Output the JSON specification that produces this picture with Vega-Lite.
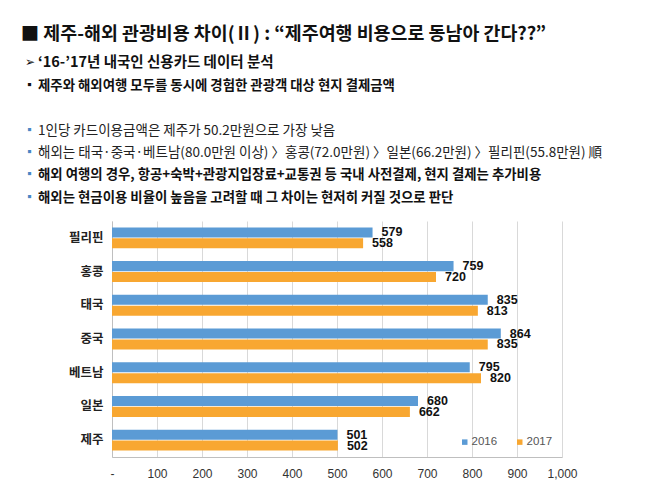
{
  "$schema": "https://vega.github.io/schema/vega-lite/v6.json",
  "background": "white",
  "autosize": {"type": "pad"},
  "padding": {"left": 20, "top": 24, "right": 10, "bottom": 4},
  "config": {
    "view": {"stroke": null},
    "font": "Noto Sans CJK KR"
  },
  "resolve": {"scale": {"color": "independent"}, "legend": {"color": "independent"}},
  "title": {
    "text": "■ 제주-해외 관광비용 차이(Ⅱ) : “제주여행 비용으로 동남아 간다??”",
    "anchor": "start",
    "dx": -3,
    "font": "Noto Sans CJK KR",
    "fontSize": 18.4,
    "fontWeight": "bold",
    "color": "#111111",
    "offset": 9
  },
  "spacing": 12,
  "datasets": {
    "notes": [
      {"row": 0, "kind": "head", "bold": true, "bullet": "➢", "text": "‘16-’17년  내국인 신용카드 데이터 분석"},
      {"row": 1, "kind": "sub", "bold": true, "bullet": "▪", "text": "제주와 해외여행 모두를 동시에 경험한 관광객 대상 현지 결제금액"},
      {"row": 3, "kind": "point", "bold": false, "bullet": "▪", "text": "1인당 카드이용금액은 제주가 50.2만원으로 가장 낮음"},
      {"row": 4, "kind": "point", "bold": false, "bullet": "▪", "text": "해외는 태국·중국·베트남(80.0만원 이상) 〉홍콩(72.0만원) 〉일본(66.2만원) 〉필리핀(55.8만원) 順"},
      {"row": 5, "kind": "point", "bold": true, "bullet": "▪", "text": "해외 여행의 경우, 항공+숙박+관광지입장료+교통권 등 국내 사전결제,  현지 결제는 추가비용"},
      {"row": 6, "kind": "point", "bold": true, "bullet": "▪", "text": "해외는 현금이용 비율이 높음을 고려할 때 그 차이는 현저히 커질 것으로 판단"}
    ],
    "spend": [
      {"country": "필리핀", "year": "2016", "value": 579},
      {"country": "필리핀", "year": "2017", "value": 558},
      {"country": "홍콩", "year": "2016", "value": 759},
      {"country": "홍콩", "year": "2017", "value": 720},
      {"country": "태국", "year": "2016", "value": 835},
      {"country": "태국", "year": "2017", "value": 813},
      {"country": "중국", "year": "2016", "value": 864},
      {"country": "중국", "year": "2017", "value": 835},
      {"country": "베트남", "year": "2016", "value": 795},
      {"country": "베트남", "year": "2017", "value": 820},
      {"country": "일본", "year": "2016", "value": 680},
      {"country": "일본", "year": "2017", "value": 662},
      {"country": "제주", "year": "2016", "value": 501},
      {"country": "제주", "year": "2017", "value": 502}
    ]
  },
  "vconcat": [
    {
      "width": 450,
      "height": 157,
      "data": {"name": "notes"},
      "encoding": {
        "y": {"field": "row", "type": "ordinal", "scale": {"type": "point", "domain": [0, 1, 2, 3, 4, 5, 6], "padding": 0.5}, "axis": null}
      },
      "layer": [
        {
          "mark": {"type": "text", "align": "center", "baseline": "middle", "fontSize": 11.5, "font": "Noto Sans CJK KR"},
          "encoding": {
            "x": {"value": -82.5},
            "text": {"field": "bullet"},
            "color": {"field": "kind", "type": "nominal", "scale": {"domain": ["head", "sub", "point"], "range": ["#111111", "#111111", "#4A86C5"]}, "legend": null}
          }
        },
        {
          "transform": [{"filter": "datum.kind == 'head'"}],
          "mark": {"type": "text", "align": "left", "baseline": "middle", "fontSize": 14.5, "fontWeight": "bold", "color": "#111111", "font": "Noto Sans CJK KR"},
          "encoding": {
            "x": {"value": -74},
            "text": {"field": "text"}
          }
        },
        {
          "transform": [{"filter": "datum.bold && datum.kind != 'head'"}],
          "mark": {"type": "text", "align": "left", "baseline": "middle", "fontSize": 13.4, "fontWeight": "bold", "color": "#111111", "font": "Noto Sans CJK KR"},
          "encoding": {
            "x": {"value": -74},
            "text": {"field": "text"}
          }
        },
        {
          "transform": [{"filter": "!datum.bold"}],
          "mark": {"type": "text", "align": "left", "baseline": "middle", "fontSize": 13.5, "fontWeight": "normal", "color": "#222222", "font": "Noto Sans CJK KR"},
          "encoding": {
            "x": {"value": -74},
            "text": {"field": "text"}
          }
        }
      ]
    },
    {
      "width": 450,
      "height": 236,
      "data": {"name": "spend"},
      "encoding": {
        "y": {
          "field": "country",
          "type": "nominal",
          "sort": ["필리핀", "홍콩", "태국", "중국", "베트남", "일본", "제주"],
          "scale": {"paddingInner": 0.38, "paddingOuter": 0.19},
          "axis": {"title": null, "ticks": false, "domainColor": "#bfbfbf", "labelFontSize": 12.5, "labelFontWeight": "bold", "labelColor": "#222222", "labelPadding": 9, "labelFont": "Noto Sans CJK KR"}
        },
        "yOffset": {"field": "year", "type": "nominal", "scale": {"paddingInner": 0.08}},
        "x": {
          "field": "value",
          "type": "quantitative",
          "scale": {"domain": [0, 1000]},
          "axis": {
            "title": null,
            "values": [0, 100, 200, 300, 400, 500, 600, 700, 800, 900, 1000],
            "labelExpr": "datum.value == 0 ? '-' : format(datum.value, ',')",
            "labelFlush": false,
            "grid": true,
            "gridColor": "#d9d9d9",
            "ticks": false,
            "domainColor": "#bfbfbf",
            "labelFont": "Liberation Sans",
            "labelFontSize": 12,
            "labelColor": "#333333",
            "labelPadding": 11
          }
        }
      },
      "layer": [
        {
          "mark": {"type": "bar"},
          "encoding": {
            "color": {
              "field": "year",
              "type": "nominal",
              "scale": {"domain": ["2016", "2017"], "range": ["#5B9BD5", "#F8A731"]},
              "legend": {
                "title": null,
                "orient": "bottom-right",
                "direction": "horizontal",
                "offset": 9,
                "symbolType": "square",
                "symbolSize": 30,
                "symbolStrokeWidth": 0,
                "labelFont": "Liberation Sans",
                "labelFontSize": 11.5,
                "labelColor": "#555555",
                "labelOffset": 1,
                "columnPadding": 16
              }
            }
          }
        },
        {
          "mark": {"type": "text", "align": "left", "baseline": "middle", "dx": 9, "font": "Liberation Sans", "fontSize": 12.5, "fontWeight": "bold", "color": "#111111"},
          "encoding": {
            "text": {"field": "value", "type": "quantitative"}
          }
        }
      ]
    }
  ]
}
